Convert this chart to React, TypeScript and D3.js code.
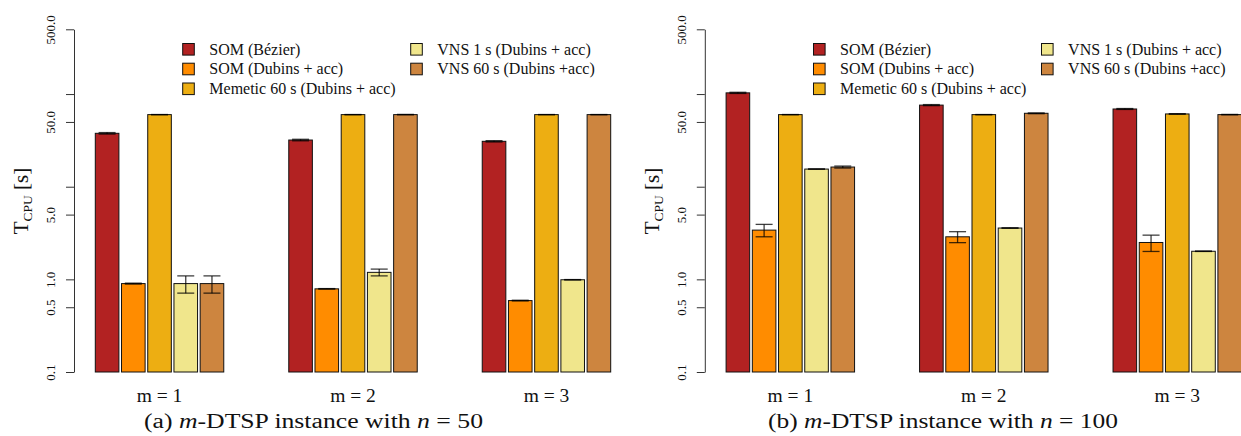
import React, { useEffect, useRef } from "react";
import * as d3 from "d3";

const categories = ["m = 1", "m = 2", "m = 3"];
const seriesNames = [
  "SOM (Bézier)",
  "SOM (Dubins + acc)",
  "Memetic 60 s (Dubins + acc)",
  "VNS 1 s (Dubins + acc)",
  "VNS 60 s (Dubins +acc)",
];
const seriesColors = ["#b22222", "#ff8c00", "#edae12", "#f0e68c", "#cd853f"];
const tickValues = [0.1, 0.5, 1, 5, 10, 50, 100, 500];
const tickLabels = ["0.1", "0.5", "1.0", "5.0", "", "50.0", "", "500.0"];

// (a) n = 50 : mean CPU time per series, one value per m
const somBezier50 = [37.7, 31.9, 30.9];
const somDubins50 = [0.9, 0.79, 0.59];
const memetic50 = [60, 60, 60];
const vns1s50 = [0.9, 1.19, 0.99];
const vns60s50 = [0.9, 60, 60];
// standard deviations (error bars)
const somBezier50Sd = [0.7, 0.6, 0.5];
const somDubins50Sd = [0.01, 0.005, 0.005];
const memetic50Sd = [0.15, 0.15, 0.15];
const vns1s50Sd = [0.19, 0.1, 0.005];
const vns60s50Sd = [0.19, 0.3, 0.15];

// (b) n = 100
const somBezier100 = [103, 76, 69];
const somDubins100 = [3.4, 2.88, 2.5];
const memetic100 = [60, 60, 61];
const vns1s100 = [15.5, 3.58, 2.01];
const vns60s100 = [16.3, 62, 60];
const somBezier100Sd = [1.5, 1.0, 0.8];
const somDubins100Sd = [0.52, 0.39, 0.5];
const memetic100Sd = [0.15, 0.15, 0.4];
const vns1s100Sd = [0.05, 0.02, 0.01];
const vns60s100Sd = [0.4, 0.6, 0.3];

const panels = [
  {
    offset: 0,
    caption: "50",
    letter: "(a) ",
    means: [somBezier50, somDubins50, memetic50, vns1s50, vns60s50],
    sds: [somBezier50Sd, somDubins50Sd, memetic50Sd, vns1s50Sd, vns60s50Sd],
    capCenter: 313.5,
    capWidth: 339,
  },
  {
    offset: 630.8,
    caption: "100",
    letter: "(b) ",
    means: [somBezier100, somDubins100, memetic100, vns1s100, vns60s100],
    sds: [somBezier100Sd, somDubins100Sd, memetic100Sd, vns1s100Sd, vns60s100Sd],
    capCenter: 943,
    capWidth: 350,
  },
];

const W = 1241;
const H = 436;
const serif = "'Liberation Serif', 'Times New Roman', serif";

const Chart = () => {
  const svgRef = useRef(null);

  useEffect(() => {
    const svg = d3.select(svgRef.current);
    svg.selectAll("*").remove();

    const y = d3.scaleLog().domain([0.1, 500]).range([372, 29.3]);

    panels.forEach((p) => {
      const g = svg.append("g").attr("transform", `translate(${p.offset},0)`);

      const x0 = d3
        .scaleBand()
        .domain(categories)
        .range([95.3, 610.7])
        .paddingInner(0.336)
        .paddingOuter(0);
      const x1 = d3
        .scaleBand()
        .domain(seriesNames)
        .range([0, x0.bandwidth()])
        .paddingInner(0.1)
        .paddingOuter(0);

      // y axis
      const axis = d3
        .axisLeft(y)
        .tickValues(tickValues)
        .tickFormat((d, i) => tickLabels[i])
        .tickSize(8)
        .tickSizeOuter(0);
      const ax = g.append("g").attr("transform", "translate(74,0)").call(axis);
      ax.select(".domain").attr("stroke", "#333");
      ax.selectAll(".tick line").attr("stroke", "#333");
      ax.selectAll(".tick text")
        .attr("transform", "rotate(-90)")
        .attr("x", 0)
        .attr("y", -19)
        .attr("dy", 0)
        .attr("text-anchor", "middle")
        .attr("fill", "#111")
        .style("font-family", serif)
        .style("font-size", "13px");

      // y label
      const yl = g
        .append("text")
        .attr("transform", "translate(28,201) rotate(-90)")
        .attr("text-anchor", "middle")
        .attr("fill", "#111")
        .style("font-family", serif)
        .style("font-size", "21px");
      yl.append("tspan").text("T");
      yl.append("tspan").attr("dy", 4).style("font-size", "13.5px").text("CPU");
      yl.append("tspan").attr("dy", -4).text(" [s]");

      // bars
      const rows = categories.flatMap((c, ci) =>
        seriesNames.map((s, si) => ({
          c,
          s,
          color: seriesColors[si],
          v: p.means[si][ci],
          sd: p.sds[si][ci],
        }))
      );

      const bars = g.append("g");
      bars
        .selectAll("rect")
        .data(rows)
        .join("rect")
        .attr("x", (d) => x0(d.c) + x1(d.s))
        .attr("y", (d) => y(d.v))
        .attr("width", x1.bandwidth())
        .attr("height", (d) => y(0.1) - y(d.v))
        .attr("fill", (d) => d.color)
        .attr("stroke", "#111")
        .attr("stroke-width", 1);

      // error bars
      const cap = 8.5;
      const eb = g
        .append("g")
        .attr("stroke", "#000")
        .attr("stroke-opacity", 0.75)
        .attr("stroke-width", 1.3);
      rows.forEach((d) => {
        const cx = x0(d.c) + x1(d.s) + x1.bandwidth() / 2;
        const lo = y(d.v - d.sd);
        const hi = y(d.v + d.sd);
        eb.append("line").attr("x1", cx).attr("x2", cx).attr("y1", lo).attr("y2", hi);
        eb.append("line").attr("x1", cx - cap).attr("x2", cx + cap).attr("y1", lo).attr("y2", lo);
        eb.append("line").attr("x1", cx - cap).attr("x2", cx + cap).attr("y1", hi).attr("y2", hi);
      });

      // group labels
      g.append("g")
        .selectAll("text")
        .data(categories)
        .join("text")
        .attr("x", (d) => x0(d) + x0.bandwidth() / 2)
        .attr("y", 402)
        .attr("text-anchor", "middle")
        .attr("fill", "#111")
        .style("font-family", serif)
        .style("font-size", "19.5px")
        .text((d) => d);

      // legend
      const legendPos = seriesNames.map((s, i) => ({
        s,
        color: seriesColors[i],
        col: i < 3 ? 0 : 1,
        row: i < 3 ? i : i - 3,
      }));
      const lg = g.append("g");
      const colX = [182.7, 410.7];
      const rowY = [49.3, 69, 88.8];
      lg.selectAll("rect")
        .data(legendPos)
        .join("rect")
        .attr("x", (d) => colX[d.col])
        .attr("y", (d) => rowY[d.row] - 5.8)
        .attr("width", 11.6)
        .attr("height", 11.6)
        .attr("fill", (d) => d.color)
        .attr("stroke", "#111");
      lg.selectAll("text")
        .data(legendPos)
        .join("text")
        .attr("x", (d) => colX[d.col] + 26.6)
        .attr("y", (d) => rowY[d.row] + 5.4)
        .attr("fill", "#111")
        .style("font-family", serif)
        .style("font-size", "16px")
        .text((d) => d.s);

      // caption
      const cap2 = svg
        .append("text")
        .attr("x", p.capCenter)
        .attr("y", 428)
        .attr("text-anchor", "middle")
        .attr("textLength", p.capWidth)
        .attr("lengthAdjust", "spacingAndGlyphs")
        .attr("fill", "#111")
        .style("font-family", serif)
        .style("font-size", "20px");
      cap2.append("tspan").text(p.letter);
      cap2.append("tspan").style("font-style", "italic").text("m");
      cap2.append("tspan").text("-DTSP instance with ");
      cap2.append("tspan").style("font-style", "italic").text("n");
      cap2.append("tspan").text(` = ${p.caption}`);
    });
  }, []);

  return (
    <svg
      ref={svgRef}
      width={W}
      height={H}
      style={{ position: "absolute", left: 0, top: 0, background: "#fff" }}
    />
  );
};

export default function App() {
  return <Chart />;
}
